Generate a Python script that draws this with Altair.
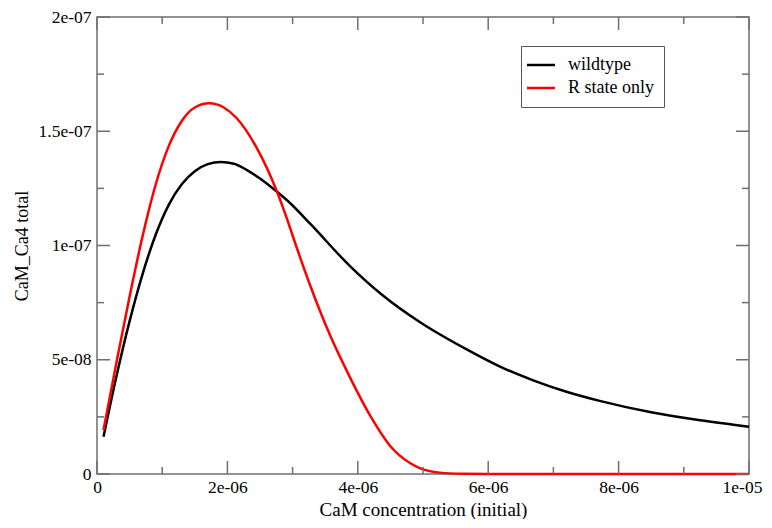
import altair as alt
import pandas as pd

# ---- data ----
wt_x = [1.0e-7, 3.0e-7, 5.0e-7, 7.0e-7, 9.0e-7, 1.1e-6, 1.3e-6, 1.5e-6, 1.7e-6, 1.9e-6,
        2.1e-6, 2.3e-6, 2.5e-6, 2.756e-6, 2.96e-6, 3.28e-6, 3.88e-6, 4.39e-6, 4.95e-6,
        5.67e-6, 6.18e-6, 6.69e-6, 7.2e-6, 7.71e-6, 8.5e-6, 9.25e-6, 1.0e-5]
wt_y = [1.63e-8, 4.3e-8, 6.69e-8, 8.76e-8, 1.047e-7, 1.178e-7, 1.268e-7, 1.325e-7, 1.356e-7,
        1.365e-7, 1.358e-7, 1.33e-7, 1.293e-7, 1.236e-7, 1.186e-7, 1.092e-7, 9.1e-8, 7.8e-8,
        6.65e-8, 5.45e-8, 4.7e-8, 4.1e-8, 3.6e-8, 3.2e-8, 2.7e-8, 2.35e-8, 2.07e-8]

r_x = [1.0e-7, 3.0e-7, 5.0e-7, 7.0e-7, 9.0e-7, 1.1e-6, 1.3e-6, 1.5e-6, 1.72e-6, 1.95e-6,
       2.14e-6, 2.45e-6, 2.76e-6, 2.91e-6, 3.01e-6, 3.27e-6, 3.57e-6, 3.88e-6, 4.19e-6,
       4.49e-6, 4.8e-6, 4.95e-6, 5.26e-6, 5.6e-6, 6.0e-6, 7.0e-6, 8.0e-6, 9.0e-6, 1.0e-5]
r_y = [1.93e-8, 4.9e-8, 7.77e-8, 1.042e-7, 1.267e-7, 1.435e-7, 1.545e-7, 1.604e-7, 1.622e-7,
       1.603e-7, 1.558e-7, 1.427e-7, 1.236e-7, 1.12e-7, 1.035e-7, 8.25e-8, 6.1e-8, 4.23e-8,
       2.55e-8, 1.25e-8, 4.8e-9, 2.6e-9, 6e-10, 1e-10, 0.0, 0.0, 0.0, 0.0, 0.0]

series_names = ["wildtype", "R state only"]
series_colors = ["#000000", "#ff0000"]

x_major = [0.0, 2e-6, 4e-6, 6e-6, 8e-6, 1e-5]
x_minor = [1e-6, 3e-6, 5e-6, 7e-6, 9e-6]
y_major = [0.0, 5e-8, 1e-7, 1.5e-7, 2e-7]
y_minor = [2.5e-8, 7.5e-8, 1.25e-7, 1.75e-7]

# ---- layout / style ----
W, H = 652, 457
FONT = "Liberation Serif"
GRAY = "#6f6f6f"
MAJ, MIN = 13, 7

df_wt = pd.DataFrame({"x": wt_x, "y": wt_y, "series": series_names[0]})
df_r = pd.DataFrame({"x": r_x, "y": r_y, "series": series_names[1]})

x_scale = alt.Scale(domain=[0, 1e-5], nice=False, zero=False)
y_scale = alt.Scale(domain=[0, 2e-7], nice=False, zero=False)
color_scale = alt.Scale(domain=series_names, range=series_colors)

x_axis = alt.Axis(
    values=x_major,
    labelExpr="round(datum.value*1e6)==0 ? '0' : (round(datum.value*1e6)==10 ? '1e-05' : round(datum.value*1e6) + 'e-06')",
    ticks=False, tickSize=0, domain=False, grid=False,
    labelFlush=False, labelOverlap=False, labelPadding=4,
    labelOffset={"condition": {"test": "datum.value > 9.9e-6", "value": -7}, "value": 0},
    labelFont=FONT, labelFontSize=17.5, labelColor="black",
    title="CaM concentration (initial)", titleFont=FONT, titleFontSize=19,
    titleFontWeight="normal", titleColor="black",
    titleBaseline="alphabetic", titleY=41,
)
y_axis = alt.Axis(
    values=y_major,
    labelExpr="round(datum.value*1e9)==0 ? '0' : (round(datum.value*1e9) < 100 ? round(datum.value*1e9)/10 + 'e-08' : round(datum.value*1e9)/100 + 'e-07')",
    ticks=False, tickSize=0, domain=False, grid=False,
    labelFlush=False, labelOverlap=False, labelPadding=6,
    labelFont=FONT, labelFontSize=17.5, labelColor="black",
    title="CaM_Ca4 total", titleFont=FONT, titleFontSize=18,
    titleFontWeight="normal", titleColor="black",
    titleBaseline="alphabetic", titleX=-70, titleY=H / 2, titleAngle=-90,
)

legend = alt.Legend(
    title=None, orient="none", legendX=424, legendY=29,
    padding=10, symbolType="M-4,0L4,0", symbolSize=49, symbolStrokeWidth=2.5,
    symbolOffset=1, labelOffset=18, rowPadding=5,
    labelFont=FONT, labelFontSize=18, labelColor="black",
    strokeColor="#555555", fillColor="white",
)


def line_layer(df):
    return alt.Chart(df).mark_line(strokeWidth=2.5, interpolate="monotone").encode(
        x=alt.X("x:Q", scale=x_scale, axis=x_axis),
        y=alt.Y("y:Q", scale=y_scale, axis=y_axis),
        color=alt.Color("series:N", scale=color_scale, legend=legend),
    )


def xticks(vals, length, top):
    d = pd.DataFrame({"x": vals})
    y0, y1 = (0, length) if top else (H, H - length)
    return alt.Chart(d).mark_rule(color=GRAY, strokeWidth=1.5).encode(
        x=alt.X("x:Q", scale=x_scale, axis=x_axis),
        y=alt.value(y0), y2=alt.value(y1),
    )


def yticks(vals, length, right):
    d = pd.DataFrame({"y": vals})
    x0, x1 = (W, W - length) if right else (0, length)
    return alt.Chart(d).mark_rule(color=GRAY, strokeWidth=1.5).encode(
        y=alt.Y("y:Q", scale=y_scale, axis=y_axis),
        x=alt.value(x0), x2=alt.value(x1),
    )


chart = alt.layer(
    line_layer(df_wt),
    line_layer(df_r),
    xticks(x_major, MAJ, False), xticks(x_major, MAJ, True),
    xticks(x_minor, MIN, False), xticks(x_minor, MIN, True),
    yticks(y_major, MAJ, False), yticks(y_major, MAJ, True),
    yticks(y_minor, MIN, False), yticks(y_minor, MIN, True),
).properties(
    width=W, height=H,
    padding={"left": 89, "top": 9, "right": 15, "bottom": 45},
    autosize="none",
    background="white",
).configure_view(
    stroke=GRAY, strokeWidth=1.5,
)

chart.save("out.html", embed_options={"renderer": "svg", "actions": False})
